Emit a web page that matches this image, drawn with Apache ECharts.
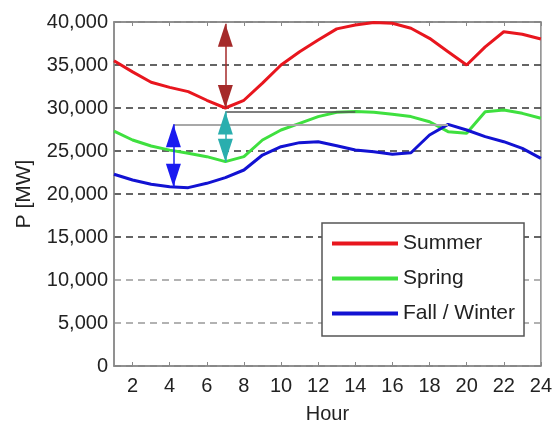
<!DOCTYPE html>
<html>
<head>
<meta charset="utf-8">
<script src="https://cdn.jsdelivr.net/npm/echarts@6/dist/echarts.min.js"></script>
<style>
  html, body { margin: 0; padding: 0; background: #fff; }
  #chart { width: 555px; height: 429px; }
</style>
</head>
<body>
<div id="chart"></div>
<script>
// Hourly load profiles (MW) for three seasons
const hours = [1,2,3,4,5,6,7,8,9,10,11,12,13,14,15,16,17,18,19,20,21,22,23,24];
const summer = [35500,34200,33000,32400,31900,30900,30000,30900,32900,35000,36550,37900,39200,39650,39950,39850,39270,38100,36550,35000,37100,38870,38570,38020];
const spring = [27300,26280,25580,25100,24730,24340,23760,24340,26280,27440,28220,29000,29500,29600,29500,29270,29000,28400,27250,27060,29570,29770,29380,28800];
const fallWinter = [22290,21630,21130,20850,20740,21240,21900,22790,24530,25500,25970,26080,25620,25120,24920,24610,24800,26860,28100,27440,26670,26080,25310,24150];

const seriesNames = ['Summer', 'Spring', 'Fall / Winter'];
const seriesColors = ['#e8161e', '#3fe03f', '#1212d2'];
const hourTicks = [2,4,6,8,10,12,14,16,18,20,22,24];

// Daily swing markers: [hour, low, high]
const summerSwing = [7, 30000, 39800];
const springSwing = [7, 23760, 29600];
const winterSwing = [4.2, 20850, 28100];
// Reference levels: [value, fromHour, toHour]
const springPeakLevel = [29600, 7, 14];
const winterPeakLevel = [28100, 4.2, 19];

const pairs = (arr) => arr.map((v, i) => [hours[i], v]);

// arrow head whose tip sits on the end point of the marker line
const head = 'path://M5,0 L10,16 L0,16 Z';
const headSize = [15, 23];
const headOffset = [0, 11.5];

function swing(s, color, lineColor) {
  return [
    { coord: [s[0], s[1]], symbol: head, symbolSize: headSize, symbolOffset: headOffset,
      lineStyle: { color: lineColor, width: 1.5, type: 'solid' }, itemStyle: { color: color } },
    { coord: [s[0], s[2]], symbol: head, symbolSize: headSize, symbolOffset: headOffset, itemStyle: { color: color } }
  ];
}
function level(l, color, width) {
  return [
    { coord: [l[1], l[0]], symbol: 'none', lineStyle: { color: color, width: width, type: 'solid' } },
    { coord: [l[2], l[0]], symbol: 'none' }
  ];
}

const font = 'Liberation Sans, Arial, sans-serif';
const chart = echarts.init(document.getElementById('chart'), null, { renderer: 'canvas' });

const lineSeries = [summer, spring, fallWinter].map((d, i) => ({
  name: seriesNames[i],
  type: 'line',
  data: pairs(d),
  showSymbol: false,
  smooth: false,
  z: 3,
  lineStyle: { color: seriesColors[i], width: 3 },
  itemStyle: { color: seriesColors[i] }
}));

chart.setOption({
  animation: false,
  backgroundColor: '#fff',
  grid: {
    left: 114, right: 10, top: 22, bottom: 63,
    show: true, borderColor: '#8a8a8a', borderWidth: 1.5, backgroundColor: 'transparent'
  },
  legend: {
    data: seriesNames,
    orient: 'vertical',
    left: 322, top: 223,
    padding: [10, 9, 12, 10],
    itemGap: 14,
    itemWidth: 66, itemHeight: 4,
    icon: 'rect',
    backgroundColor: '#fff',
    borderColor: '#555', borderWidth: 1.5, borderRadius: 0,
    textStyle: { fontFamily: font, fontSize: 21, color: '#222' }
  },
  xAxis: [{
    type: 'value', min: 1, max: 24,
    name: 'Hour', nameLocation: 'middle', nameGap: 38,
    nameTextStyle: { fontFamily: font, fontSize: 20, color: '#222' },
    axisLine: { show: true, lineStyle: { color: '#8a8a8a', width: 1.5 } },
    axisTick: { show: true, inside: true, length: 4, customValues: hourTicks, lineStyle: { color: '#888' } },
    axisLabel: { customValues: hourTicks, margin: 10, fontFamily: font, fontSize: 20, color: '#222' },
    splitLine: { show: false }
  }, {
    type: 'value', min: 1, max: 24, position: 'top',
    axisLine: { show: true, lineStyle: { color: '#8a8a8a', width: 1.5 } },
    axisTick: { show: true, inside: true, length: 4, customValues: hourTicks, lineStyle: { color: '#888' } },
    axisLabel: { show: false },
    splitLine: { show: false }
  }],
  yAxis: {
    type: 'value', min: 0, max: 40000, interval: 5000,
    name: 'P [MW]', nameLocation: 'middle', nameGap: 79,
    nameTextStyle: { fontFamily: font, fontSize: 21, color: '#222' },
    axisLine: { show: true, lineStyle: { color: '#8a8a8a', width: 1.5 } },
    axisTick: { show: false },
    axisLabel: {
      margin: 6, fontFamily: font, fontSize: 20, color: '#222',
      formatter: (v) => v.toLocaleString('en-US')
    },
    splitLine: {
      show: true,
      lineStyle: {
        type: [7, 5], width: 1.5,
        color: ['#777', '#999', '#999', '#333', '#333', '#333', '#333', '#333', '#777']
      }
    }
  },
  series: [
    {
      name: 'levels', type: 'line', data: [], z: 2, silent: true,
      markLine: {
        silent: true, animation: false,
        label: { show: false },
        emphasis: { disabled: true },
        data: [level(springPeakLevel, '#555', 1.5), level(winterPeakLevel, '#a8a8a8', 2)]
      }
    },
    ...lineSeries,
    {
      name: 'swings', type: 'line', data: [], z: 4, silent: true,
      markLine: {
        silent: true, animation: false,
        label: { show: false },
        emphasis: { disabled: true },
        data: [
          swing(summerSwing, '#c8321f', '#a52a2a'),
          swing(springSwing, '#2cc4c4', '#2aaeae'),
          swing(winterSwing, '#1a1af0', '#1a1af0')
        ]
      }
    }
  ]
});
</script>
</body>
</html>
